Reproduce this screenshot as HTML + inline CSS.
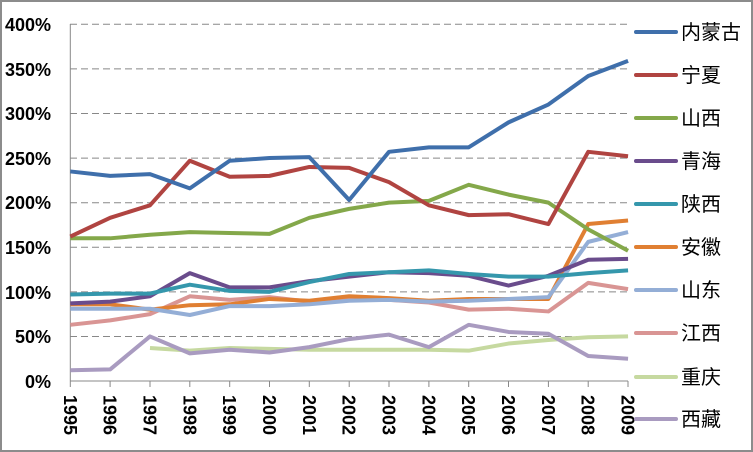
<!DOCTYPE html>
<html><head><meta charset="utf-8"><style>
html,body{margin:0;padding:0;background:#fff}
svg{display:block}
</style></head><body>
<svg width="753" height="452" xmlns="http://www.w3.org/2000/svg">
<rect x="1" y="1" width="751" height="450" fill="#fff" stroke="#8c8c8c" stroke-width="2"/>
<g stroke="#888" stroke-width="1" stroke-dasharray="7,4">
<line x1="70" y1="24.3" x2="628" y2="24.3"/>
<line x1="70" y1="68.9" x2="628" y2="68.9"/>
<line x1="70" y1="113.5" x2="628" y2="113.5"/>
<line x1="70" y1="158.1" x2="628" y2="158.1"/>
<line x1="70" y1="202.7" x2="628" y2="202.7"/>
<line x1="70" y1="247.3" x2="628" y2="247.3"/>
<line x1="70" y1="291.9" x2="628" y2="291.9"/>
<line x1="70" y1="336.5" x2="628" y2="336.5"/>
</g>
<g stroke="#888" stroke-width="1">
<line x1="70.3" y1="24" x2="70.3" y2="381"/>
<line x1="70" y1="381" x2="628" y2="381"/>
<line x1="70.3" y1="381" x2="70.3" y2="387"/><line x1="110.1" y1="381" x2="110.1" y2="387"/><line x1="150" y1="381" x2="150" y2="387"/><line x1="189.8" y1="381" x2="189.8" y2="387"/><line x1="229.7" y1="381" x2="229.7" y2="387"/><line x1="269.5" y1="381" x2="269.5" y2="387"/><line x1="309.3" y1="381" x2="309.3" y2="387"/><line x1="349.2" y1="381" x2="349.2" y2="387"/><line x1="389" y1="381" x2="389" y2="387"/><line x1="428.9" y1="381" x2="428.9" y2="387"/><line x1="468.7" y1="381" x2="468.7" y2="387"/><line x1="508.5" y1="381" x2="508.5" y2="387"/><line x1="548.4" y1="381" x2="548.4" y2="387"/><line x1="588.2" y1="381" x2="588.2" y2="387"/><line x1="628" y1="381" x2="628" y2="387"/>
</g>
<g font-family="Liberation Sans, sans-serif" font-weight="bold" font-size="18" fill="#000" text-anchor="end">
<text x="51" y="31">400%</text><text x="51" y="76">350%</text><text x="51" y="120">300%</text><text x="51" y="165">250%</text><text x="51" y="209">200%</text><text x="51" y="254">150%</text><text x="51" y="299">100%</text><text x="51" y="343">50%</text><text x="51" y="388">0%</text>
</g>
<g font-family="Liberation Sans, sans-serif" font-weight="bold" font-size="18" fill="#000">
<text transform="translate(63.8,395) rotate(90)">1995</text>
<text transform="translate(103.6,395) rotate(90)">1996</text>
<text transform="translate(143.5,395) rotate(90)">1997</text>
<text transform="translate(183.3,395) rotate(90)">1998</text>
<text transform="translate(223.2,395) rotate(90)">1999</text>
<text transform="translate(263,395) rotate(90)">2000</text>
<text transform="translate(302.8,395) rotate(90)">2001</text>
<text transform="translate(342.7,395) rotate(90)">2002</text>
<text transform="translate(382.5,395) rotate(90)">2003</text>
<text transform="translate(422.4,395) rotate(90)">2004</text>
<text transform="translate(462.2,395) rotate(90)">2005</text>
<text transform="translate(502,395) rotate(90)">2006</text>
<text transform="translate(541.9,395) rotate(90)">2007</text>
<text transform="translate(581.7,395) rotate(90)">2008</text>
<text transform="translate(621.5,395) rotate(90)">2009</text>
</g>
<g transform="translate(70.3,381) scale(39.84,-0.8918)" fill="none" stroke-width="4" stroke-linejoin="round">
<polyline vector-effect="non-scaling-stroke" stroke="#c6d9a0" points="2,37 3,34 4,37 5,36 6,35 7,35 8,35 9,35 10,34 11,42 12,46 13,49 14,50"/>
<polyline vector-effect="non-scaling-stroke" stroke="#a99bc0" points="0,12 1,13 2,50 3,31 4,35 5,32 6,38 7,47 8,52 9,38 10,63 11,55 12,53 13,28 14,25"/>
<polyline vector-effect="non-scaling-stroke" stroke="#d99594" points="0,63 1,68 2,75 3,95 4,91 5,94 6,89 7,93 8,91 9,88 10,80 11,81 12,78 13,110 14,103"/>
<polyline vector-effect="non-scaling-stroke" stroke="#e07f32" points="0,86 1,86 2,80 3,85 4,86 5,92 6,90 7,95 8,93 9,90 10,92 11,92 12,92 13,176 14,180"/>
<polyline vector-effect="non-scaling-stroke" stroke="#94aed6" points="0,81 1,81 2,81 3,74 4,84 5,84 6,86 7,90 8,91 9,89 10,90 11,92 12,94 13,156 14,167"/>
<polyline vector-effect="non-scaling-stroke" stroke="#6a4c8c" points="0,87 1,89 2,95 3,121 4,105 5,105 6,112 7,117 8,122 9,121 10,118 11,107 12,118 13,136 14,137"/>
<polyline vector-effect="non-scaling-stroke" stroke="#3597ac" points="0,97 1,98 2,98 3,108 4,101 5,100 6,111 7,120 8,122 9,124 10,120 11,117 12,117 13,121 14,124"/>
<polyline vector-effect="non-scaling-stroke" stroke="#84a84a" points="0,160 1,160 2,164 3,167 4,166 5,165 6,183 7,193 8,200 9,202 10,220 11,209 12,200 13,170 14,146"/>
<polyline vector-effect="non-scaling-stroke" stroke="#b04441" points="0,162 1,183 2,197 3,247 4,229 5,230 6,240 7,239 8,223 9,197 10,186 11,187 12,176 13,257 14,252"/>
<polyline vector-effect="non-scaling-stroke" stroke="#3f6fab" points="0,235 1,230 2,232 3,216 4,247 5,250 6,251 7,203 8,257 9,262 10,262 11,290 12,310 13,342 14,359"/>
</g>
<g stroke-width="4" stroke-linecap="round">
<line x1="636" y1="32" x2="676" y2="32" stroke="#3f6fab"/>
<line x1="636" y1="75" x2="676" y2="75" stroke="#b04441"/>
<line x1="636" y1="118" x2="676" y2="118" stroke="#84a84a"/>
<line x1="636" y1="161" x2="676" y2="161" stroke="#6a4c8c"/>
<line x1="636" y1="204" x2="676" y2="204" stroke="#3597ac"/>
<line x1="636" y1="247" x2="676" y2="247" stroke="#e07f32"/>
<line x1="636" y1="290" x2="676" y2="290" stroke="#94aed6"/>
<line x1="636" y1="333" x2="676" y2="333" stroke="#d99594"/>
<line x1="636" y1="377" x2="676" y2="377" stroke="#c6d9a0"/>
<line x1="636" y1="419" x2="676" y2="419" stroke="#a99bc0"/>
</g>
<g font-family="Liberation Sans, 'Noto Sans CJK SC', sans-serif" font-size="20" fill="#000">
<text x="681" y="39">内蒙古</text>
<text x="681" y="82">宁夏</text>
<text x="681" y="125">山西</text>
<text x="681" y="168">青海</text>
<text x="681" y="211">陕西</text>
<text x="681" y="254">安徽</text>
<text x="681" y="297">山东</text>
<text x="681" y="340">江西</text>
<text x="681" y="384">重庆</text>
<text x="681" y="426">西藏</text>
</g>
</svg>
</body></html>
